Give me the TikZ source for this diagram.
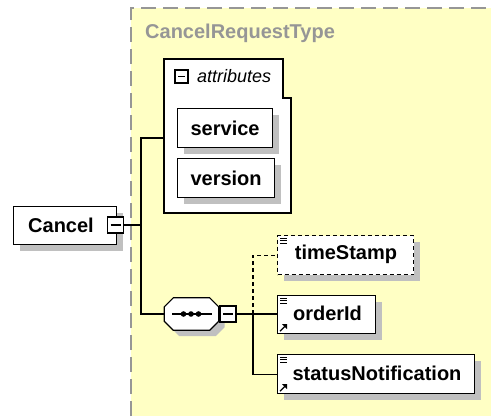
\documentclass[tikz,border=0pt]{standalone}
\usepackage{fontspec}
\setmainfont{Liberation Sans}
\usetikzlibrary{shadows}
\definecolor{bgyellow}{RGB}{255,255,196}
\definecolor{shadowgray}{RGB}{192,192,192}
\definecolor{titlegray}{RGB}{150,150,150}
\definecolor{framegray}{RGB}{150,150,150}
\tikzset{
  shadowed/.style={general shadow={fill=shadowgray, shadow xshift=6pt, shadow yshift=-6pt}},
  elem/.style={draw=black, fill=white, line width=1.2pt, inner sep=0pt, anchor=north west, shadowed},
  optelem/.style={elem, dashed, dash pattern=on 4pt off 3pt},
  minusbox/.style={draw=black, fill=white, line width=1.1pt, inner sep=0pt, minimum width=16pt, minimum height=16pt,
    path picture={\draw[line width=1.1pt] ([xshift=3pt]path picture bounding box.west) -- ([xshift=-3pt]path picture bounding box.east);}},
  lbl/.style={font=\fontsize{20}{22}\selectfont\bfseries, inner sep=0pt},
  conn/.style={draw=black, line width=1.2pt},
  optconn/.style={conn, dash pattern=on 4pt off 3pt},
}
\begin{document}
\begin{tikzpicture}[x=1pt, y=-1pt]
\useasboundingbox (0,0) rectangle (491,416);
% complex type background
\fill[bgyellow] (131,8) rectangle (491,416);
\draw[framegray, line width=1.2pt, dash pattern=on 15pt off 7pt] (131,416) -- (131,8) -- (491,8);
\node[anchor=west, text=titlegray, font=\fontsize{20}{22}\selectfont\bfseries, inner sep=0pt] (title) at (145,33) {CancelRequestType};

% attributes group
\draw[black, fill=white, line width=1.2pt] (164,59) -- (283,59) -- (283,98) -- (291,98) -- (291,213) -- (164,213) -- cycle;
\node[minusbox, minimum width=13pt, minimum height=13pt] (attrminus) at (181.5,76.5) {};
\node[anchor=west, inner sep=0pt, font=\fontsize{18}{20}\selectfont\itshape] (attrlbl) at (197,76) {attributes};
\coordinate (attrW) at (164,138);
\node[elem, minimum width=95pt, minimum height=39pt] (service) at (177,108) {};
\node[lbl] at (service.center) {service};
\node[elem, minimum width=97pt, minimum height=39pt] (version) at (177,158) {};
\node[lbl] at (version.center) {version};

% root element
\node[elem, minimum width=103pt, minimum height=38pt] (cancel) at (13,206) {};
\node[lbl] (cancellbl) at (61,225) {Cancel};
\node[minusbox] (cancelminus) at (115.5,225) {};

% sequence compositor
\node[inner sep=0pt, minimum width=54pt, minimum height=32pt] (seq) at (191.5,314) {};
\draw[line width=1.2pt, fill=white, shadowed]
  ([xshift=9pt]seq.north west) -- ([xshift=-9pt]seq.north east) -- ([yshift=-9pt]seq.north east)
  -- ([yshift=9pt]seq.south east) -- ([xshift=-9pt]seq.south east) -- ([xshift=9pt]seq.south west)
  -- ([yshift=9pt]seq.south west) -- ([yshift=-9pt]seq.north west) -- cycle;
\draw[line width=1.2pt] (172,314) -- (212,314);
\fill (183.5,314) circle (2.8pt) (191,314) circle (2.8pt) (198.5,314) circle (2.8pt);
\node[minusbox] (seqminus) at (228,314) {};

% child elements
\node[optelem, minimum width=136pt, minimum height=39pt] (timeStamp) at (277,235) {};
\node[lbl] at (346,254) {timeStamp};
\node[elem, minimum width=98pt, minimum height=38pt] (orderId) at (277,295) {};
\node[lbl] at (327.5,313) {orderId};
\node[elem, minimum width=197pt, minimum height=39pt] (statusNotification) at (277,354) {};
\node[lbl] at (377,373) {statusNotification};

% small icons in child boxes
\foreach \b in {timeStamp,orderId,statusNotification}{
  \draw[line width=0.8pt] ([xshift=3pt,yshift=-3pt]\b.north west) -- ++(7pt,0)
    ([xshift=3pt,yshift=-5.5pt]\b.north west) -- ++(7pt,0)
    ([xshift=3pt,yshift=-8pt]\b.north west) -- ++(7pt,0);
}
\foreach \b in {orderId,statusNotification}{
  \draw[line width=1.2pt] ([xshift=3pt,yshift=3pt]\b.south west) -- ++(5pt,5pt);
  \fill ([xshift=10pt,yshift=10pt]\b.south west) -- ++(-5pt,0) -- ++(5pt,-5pt) -- cycle;
}

% connectors
\coordinate (bus) at (141,225);
\draw[conn] (cancelminus.east) -- (bus);
\draw[conn] (attrW) -| (bus) |- (seq.west);
\coordinate (seqbus) at (253,314);
\draw[conn] (seqminus.east) -- (seqbus) -- (orderId.west |- seqbus);
\draw[conn] (seqbus) |- (statusNotification.west);
\draw[optconn] (seqbus) |- (timeStamp.west);
\end{tikzpicture}
\end{document}
